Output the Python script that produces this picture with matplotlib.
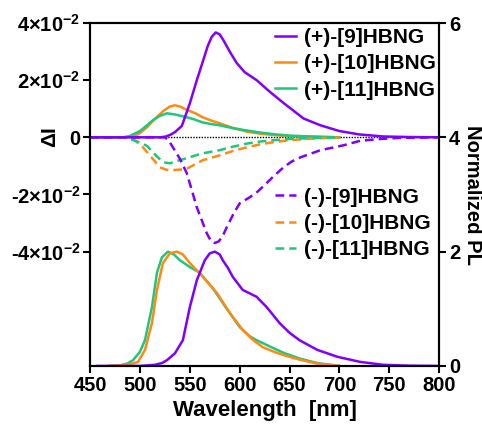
import numpy as np
import matplotlib
matplotlib.use('Agg')
import matplotlib.pyplot as plt

plt.rcParams['font.family'] = ['Liberation Sans', 'DejaVu Sans']
plt.rcParams['font.weight'] = 'bold'
plt.rcParams['font.size'] = 14
plt.rcParams['mathtext.default'] = 'regular'

PURPLE = '#8000ff'
ORANGE = '#ff8a12'
GREEN = '#1fc67e'

# CPL (delta I), left axis
wl_p9 = [450, 500, 520, 525, 530, 535, 542, 550, 557, 563, 568, 572, 576, 580, 584,
         590, 597, 605, 617, 630, 644, 664, 681, 700, 720, 744, 770, 800]
cpl_p9 = [0, 0, 0, 0.0002, 0.0008, 0.0018, 0.0040, 0.0119, 0.0200, 0.0265, 0.0320,
          0.0352, 0.0367, 0.0360, 0.0338, 0.0300, 0.0260, 0.0228, 0.0200, 0.0160,
          0.0120, 0.0066, 0.0042, 0.0022, 0.0010, 0.0003, 0.0001, 0]

wl_m9 = [450, 520, 525, 529, 533, 540, 547, 557, 567, 571, 575, 579, 583, 587, 594,
         600, 610, 618, 627, 636, 644, 652, 661, 681, 704, 721, 740, 760, 800]
cpl_m9 = [0, 0, 0, -0.0012, -0.0035, -0.0075, -0.0126, -0.0245, -0.0336, -0.0362,
          -0.0370, -0.0364, -0.0345, -0.0315, -0.0266, -0.0231, -0.0210, -0.0190,
          -0.0160, -0.0130, -0.0105, -0.0085, -0.0070, -0.0045, -0.0028, -0.0012,
          -0.0006, -0.0002, 0]

wl_p10 = [450, 485, 493, 500, 507, 515, 524, 530, 535, 540, 547, 555, 563, 572,
          580, 593, 607, 620, 634, 650, 670, 700]
cpl_p10 = [0, 0, 0.0002, 0.0015, 0.0035, 0.0065, 0.0094, 0.0108, 0.0112, 0.0108,
           0.0096, 0.0085, 0.0070, 0.0058, 0.0049, 0.0033, 0.0020, 0.0013, 0.0008,
           0.0004, 0.0002, 0]

wl_m10 = [450, 485, 493, 503, 512, 520, 527, 532, 540, 547, 555, 563, 572, 580,
          593, 607, 620, 634, 650, 670, 700]
cpl_m10 = [0, 0, -0.0005, -0.0035, -0.0072, -0.0105, -0.0114, -0.0115, -0.0113,
           -0.0110, -0.0095, -0.0080, -0.0071, -0.0063, -0.0048, -0.0035, -0.0025,
           -0.0017, -0.0010, -0.0005, 0]

wl_p11 = [450, 483, 490, 500, 507, 513, 520, 527, 535, 547, 555, 563, 572, 580,
          593, 607, 620, 634, 650, 670, 700]
cpl_p11 = [0, 0, 0.0005, 0.0022, 0.0042, 0.0060, 0.0075, 0.0084, 0.0080, 0.0070,
           0.0062, 0.0052, 0.0046, 0.0042, 0.0032, 0.0024, 0.0017, 0.0011, 0.0006,
           0.0003, 0]

wl_m11 = [450, 483, 490, 500, 507, 515, 523, 530, 538, 547, 555, 563, 572, 580,
          593, 607, 620, 634, 650, 670, 700]
cpl_m11 = [0, 0, -0.0006, -0.0018, -0.0030, -0.0060, -0.0087, -0.0091, -0.0082,
           -0.0073, -0.0064, -0.0056, -0.0050, -0.0045, -0.0033, -0.0022, -0.0015,
           -0.0010, -0.0006, -0.0003, 0]

# normalized PL, right axis
wl_pl9 = [457, 500, 515, 522, 527, 535, 543, 550, 557, 565, 570, 575, 580, 583,
          588, 593, 603, 610, 617, 627, 634, 640, 650, 660, 678, 698, 721, 744,
          770, 800]
pl9 = [0, 0, 0.02, 0.05, 0.10, 0.22, 0.45, 1.03, 1.50, 1.85, 1.97, 2.0, 1.95, 1.85,
       1.72, 1.56, 1.33, 1.27, 1.21, 1.03, 0.88, 0.75, 0.58, 0.45, 0.28, 0.16, 0.07,
       0.02, 0.005, 0]

wl_pl10 = [467, 480, 490, 498, 505, 512, 517, 523, 530, 537, 543, 550, 563, 577,
           590, 603, 613, 623, 634, 644, 660, 678, 700]
pl10 = [0, 0.01, 0.03, 0.07, 0.28, 0.75, 1.33, 1.80, 1.97, 2.0, 1.95, 1.80, 1.56,
        1.28, 0.93, 0.63, 0.46, 0.33, 0.25, 0.19, 0.11, 0.04, 0]

wl_pl11 = [470, 480, 487, 493, 500, 505, 512, 517, 522, 528, 534, 540, 550, 560,
           573, 587, 600, 610, 617, 634, 644, 660, 678, 700]
pl11 = [0, 0.01, 0.04, 0.10, 0.25, 0.45, 1.03, 1.63, 1.90, 2.0, 1.95, 1.85, 1.73,
        1.63, 1.36, 1.00, 0.68, 0.52, 0.45, 0.31, 0.23, 0.13, 0.05, 0]

left_ticks = [-0.04, -0.02, 0, 0.02, 0.04]
left_labels = ['-4×10$^{-2}$', '-2×10$^{-2}$', '0', '2×10$^{-2}$', '4×10$^{-2}$']

fig = plt.figure(figsize=(4.82, 4.26), dpi=100)
ax = fig.add_axes([0.187, 0.141, 0.724, 0.805])
ax2 = ax.twinx()

lw = 1.8
dash = (3.5, 2)

ax.plot([450, 800], [0, 0], color='black', lw=1.0, ls=(0, (1, 1)), zorder=1)

h1, = ax.plot(wl_p9, cpl_p9, color=PURPLE, lw=lw, label='(+)-[9]HBNG', zorder=4)
h2, = ax.plot(wl_p10, cpl_p10, color=ORANGE, lw=lw, label='(+)-[10]HBNG', zorder=3)
h3, = ax.plot(wl_p11, cpl_p11, color=GREEN, lw=lw, label='(+)-[11]HBNG', zorder=3)
h4, = ax.plot(wl_m9, cpl_m9, color=PURPLE, lw=lw, dashes=dash, label='(-)-[9]HBNG', zorder=4)
h5, = ax.plot(wl_m10, cpl_m10, color=ORANGE, lw=lw, dashes=dash, label='(-)-[10]HBNG', zorder=3)
h6, = ax.plot(wl_m11, cpl_m11, color=GREEN, lw=lw, dashes=dash, label='(-)-[11]HBNG', zorder=3)

ax2.plot(wl_pl11, pl11, color=GREEN, lw=lw)
ax2.plot(wl_pl10, pl10, color=ORANGE, lw=lw)
ax2.plot(wl_pl9, pl9, color=PURPLE, lw=lw)

ax.set_xlim(450, 800)
ax.set_xticks(np.arange(450, 801, 50))
ax.set_ylim(-0.08, 0.04)
ax.set_yticks(left_ticks)
ax.set_yticklabels(left_labels)
ax2.set_ylim(0, 6)
ax2.set_yticks([0, 2, 4, 6])

for a in (ax, ax2):
    for s in a.spines.values():
        s.set_linewidth(1.5)
    a.tick_params(width=1.5, length=5, labelsize=14.5, pad=2)

ax.set_xlabel('Wavelength  [nm]', fontsize=16, fontweight='bold', labelpad=4)
ax.set_ylabel('ΔI', fontsize=15, fontweight='bold')
ax.yaxis.set_label_coords(-0.09, 0.668)
ax2.set_ylabel('Normalized PL', fontsize=14.5, fontweight='bold', rotation=270,
               va='bottom', labelpad=2)

leg_kw = dict(loc='upper left', frameon=False, borderpad=0, borderaxespad=0,
              handlelength=1.0, handletextpad=0.4, labelspacing=0.35, fontsize=15)
leg1 = ax.legend(handles=[h1, h2, h3], bbox_to_anchor=(0.53, 0.985), **leg_kw)
ax.add_artist(leg1)
ax.legend(handles=[h4, h5, h6], bbox_to_anchor=(0.53, 0.52), **leg_kw)

fig.savefig('out.png', dpi=100)
